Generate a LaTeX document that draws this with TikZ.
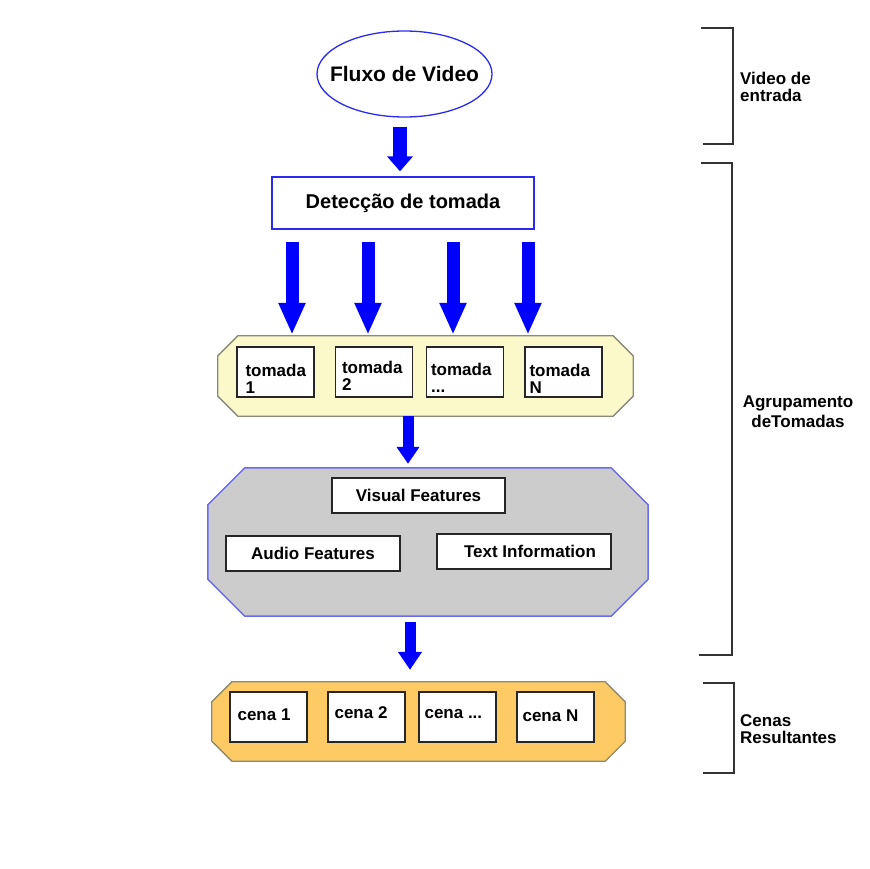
\documentclass[tikz,border=0pt]{standalone}
\usepackage{fontspec}
\setmainfont{Liberation Sans}
\usetikzlibrary{arrows.meta,shapes.geometric}
\definecolor{arrblue}{HTML}{0000FF}
\definecolor{edgeblue}{HTML}{2B2BF0}
\definecolor{octblue}{HTML}{6A6AF0}
\definecolor{yelfill}{HTML}{FBF8CA}
\definecolor{orafill}{HTML}{FDCA64}
\definecolor{grayfill}{HTML}{CCCCCC}
\definecolor{octedge}{HTML}{8A8A7A}
\definecolor{brk}{HTML}{333333}
\begin{document}
\begin{tikzpicture}[x=1pt,y=-1pt,
  bigtxt/.style={font=\fontsize{21}{24}\selectfont\bfseries},
  txt/.style={font=\fontsize{17}{17}\selectfont\bfseries},
  sidetxt/.style={font=\fontsize{17}{17}\selectfont\bfseries, align=left, inner sep=0pt, anchor=west},
  inbox/.style={draw=black!85, line width=1.3pt, fill=white, inner sep=0pt},
  shotbox/.style={inbox, minimum width=77pt, minimum height=50pt},
  featbox/.style={inbox, minimum width=174pt, minimum height=35pt, txt},
  boxlabel/.style={txt, align=left, inner sep=0pt, anchor=west},
  holder/.style={draw=none, inner sep=0pt},
  barrow/.style={draw=arrblue, line width=#1},
  bracket/.style={draw=brk, line width=1.6pt}
]
\useasboundingbox (0,0) rectangle (869,869);

% video stream
\node[ellipse, draw=edgeblue, line width=1.3pt, minimum width=175pt, minimum height=86pt, inner sep=0pt] (fl) at (404.5,74) {};
\node[bigtxt, inner sep=0pt] (fltxt) at (fl.center) {Fluxo de Video};
% shot detection
\node[draw=edgeblue, line width=1.3pt, minimum width=262pt, minimum height=52pt, inner sep=0pt, font=\fontsize{20}{24}\selectfont\bfseries] (det) at (403,203) {Detecção de tomada};

\draw[barrow=14pt, -{Triangle[width=25pt,length=15pt]}] ([xshift=-4.5pt,yshift=-9pt]fl.south) -- ([xshift=-3pt,yshift=5pt]det.north);

% yellow octagon (shots)
\node[holder, minimum width=415pt, minimum height=80pt] (yel) at (425.5,376) {};
\filldraw[fill=yelfill, draw=octedge, line width=1.3pt]
  ([xshift=20pt]yel.north west) -- ([xshift=-20pt]yel.north east) -- ([yshift=-20pt]yel.north east)
  -- ([yshift=20pt]yel.south east) -- ([xshift=-20pt]yel.south east) -- ([xshift=20pt]yel.south west)
  -- ([yshift=20pt]yel.south west) -- ([yshift=-20pt]yel.north west) -- cycle;

\coordinate (s1) at (292,242);
\coordinate (s2) at (368,242);
\coordinate (s3) at (453,242);
\coordinate (s4) at (528,242);
\foreach \s in {s1,s2,s3,s4}
  \draw[barrow=13pt, -{Triangle[width=25pt,length=32pt]}] (\s) -- ([yshift=1pt]\s |- yel.north);

\node[shotbox] (t1) at (275.5,372) {};
\node[shotbox] (t2) at (374,372) {};
\node[shotbox] (t3) at (465,372) {};
\node[shotbox] (t4) at (563.5,372) {};
\node[boxlabel] (t1l) at ([xshift=9pt,yshift=-7pt]t1.west) {tomada\\1};
\node[boxlabel] (t2l) at ([xshift=7pt,yshift=-4pt]t2.west) {tomada\\2};
\node[boxlabel] (t3l) at ([xshift=5pt,yshift=-6pt]t3.west) {tomada\\...};
\node[boxlabel] (t4l) at ([xshift=5pt,yshift=-7pt]t4.west) {tomada\\N};

% gray octagon (features)
\node[holder, minimum width=440pt, minimum height=148pt] (gry) at (428,542) {};
\filldraw[fill=grayfill, draw=octblue, line width=1.5pt]
  ([xshift=37pt]gry.north west) -- ([xshift=-37pt]gry.north east) -- ([yshift=-37pt]gry.north east)
  -- ([yshift=37pt]gry.south east) -- ([xshift=-37pt]gry.south east) -- ([xshift=37pt]gry.south west)
  -- ([yshift=37pt]gry.south west) -- ([yshift=-37pt]gry.north west) -- cycle;

\draw[barrow=11pt, -{Triangle[width=22pt,length=17pt]}] ([xshift=-17.5pt]yel.south) -- ([xshift=-20pt,yshift=4pt]gry.north);

\node[featbox, minimum width=173pt] (vis) at (418.5,495.5) {Visual Features};
\node[featbox] (aud) at (313,553.5) {Audio Features};
\node[featbox] (txi) at (524,551.5) {\hspace{12pt}Text Information};

% orange octagon (scenes)
\node[holder, minimum width=413pt, minimum height=79pt] (ora) at (418.5,721.5) {};
\filldraw[fill=orafill, draw=octedge, line width=1.3pt]
  ([xshift=20pt]ora.north west) -- ([xshift=-20pt]ora.north east) -- ([yshift=-20pt]ora.north east)
  -- ([yshift=20pt]ora.south east) -- ([xshift=-20pt]ora.south east) -- ([xshift=20pt]ora.south west)
  -- ([yshift=20pt]ora.south west) -- ([yshift=-20pt]ora.north west) -- cycle;

\draw[barrow=11pt, -{Triangle[width=23pt,length=18pt]}] ([xshift=-18pt,yshift=-6pt]gry.south) -- ([xshift=-8.5pt,yshift=12pt]ora.north);

\node[shotbox] (c1) at (268.5,717) {};
\node[shotbox] (c2) at (366.5,717) {};
\node[shotbox] (c3) at (457.5,717) {};
\node[shotbox] (c4) at (555.5,717) {};
\node[boxlabel] (c1l) at ([xshift=8pt,yshift=2pt]c1.west) {cena 1};
\node[boxlabel] (c2l) at ([xshift=7pt,yshift=4pt]c2.west) {cena 2};
\node[boxlabel] (c3l) at ([xshift=6pt,yshift=3pt]c3.west) {cena ...};
\node[boxlabel] (c4l) at ([xshift=6pt,yshift=1pt]c4.west) {cena N};

% brackets
\draw[bracket] (701,28) -- (733,28) -- (733,144) -- (703,144);
\draw[bracket] (701,163) -- (732,163) -- (732,655) -- (699,655);
\draw[bracket] (703,683) -- (734,683) -- (734,773) -- (703,773);

\node[sidetxt] (lab1) at (740,87) {Video de\\entrada};
\node[font=\fontsize{17}{20}\selectfont\bfseries, align=center, inner sep=0pt] (lab2) at (798,412) {Agrupamento\\deTomadas};
\node[sidetxt] (lab3) at (740,729) {Cenas\\Resultantes};
\end{tikzpicture}
\end{document}
